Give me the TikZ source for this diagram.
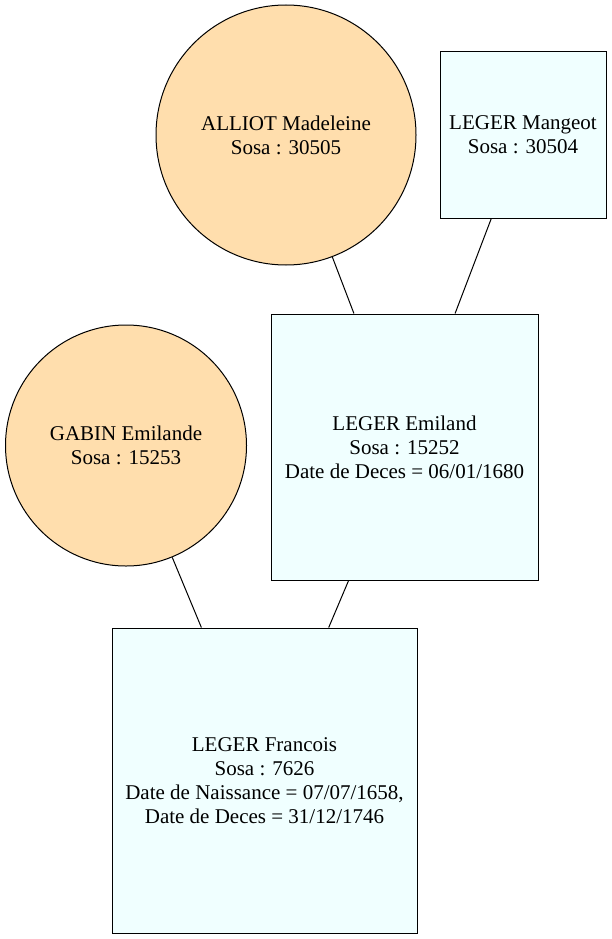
\documentclass[tikz,border=0pt]{standalone}
\usepackage{xcolor}
\usepackage{fontspec}
\setmainfont{Liberation Serif}
\usepackage{tikz}
\usetikzlibrary{positioning}

\definecolor{womanfill}{HTML}{FFDEAD}
\definecolor{manfill}{HTML}{F0FFFF}

\tikzset{
  person/.style={draw, line width=1pt, align=center, inner sep=0pt,
    font=\fontsize{21}{24}\selectfont},
  woman/.style={person, circle, fill=womanfill, minimum size=#1},
  man/.style={person, rectangle, fill=manfill, minimum size=#1},
  link/.style={line width=1pt}
}

\begin{document}
\begin{tikzpicture}[x=1pt, y=-1pt]
  % Fix the page size
  \useasboundingbox (0,0) rectangle (612,939);

  % Draw the people
  \node[woman=260] (alliot) at (286,135) {ALLIOT Madeleine\\Sosa : 30505};
  \node[man=166] (mangeot) at (523,135) {LEGER Mangeot\\Sosa : 30504};
  \node[man=266, minimum width=267] (emiland) at (404.5,447) {LEGER Emiland\\Sosa : 15252\\Date de Deces = 06/01/1680};
  \node[woman=241] (gabin) at (126,445.5) {GABIN Emilande\\Sosa : 15253};
  \node[man=305] (francois) at (264.5,780.5) {LEGER Francois\\Sosa : 7626\\Date de Naissance = 07/07/1658,\\Date de Deces = 31/12/1746};

  % Join children to parents
  \draw[link] (emiland) -- (alliot);
  \draw[link] (emiland) -- (mangeot);
  \draw[link] (francois) -- (gabin);
  \draw[link] (francois) -- (emiland);
\end{tikzpicture}
\end{document}
